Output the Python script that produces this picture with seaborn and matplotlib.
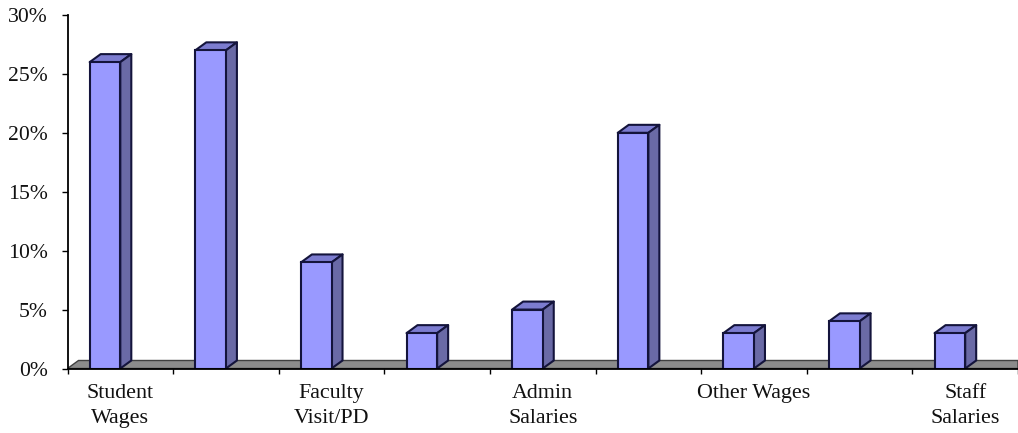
import numpy as np
import pandas as pd
import matplotlib
matplotlib.use("Agg")
import matplotlib.pyplot as plt
from matplotlib.patches import Polygon
from matplotlib.ticker import FuncFormatter
import seaborn as sns

categories = ["Student Wages", "Student Other", "Faculty Visit/PD", "Faculty Other",
              "Admin Salaries", "Admin Other", "Other Wages", "Other", "Staff Salaries"]
values = [26, 27, 9, 3, 5, 20, 3, 4, 3]
tick_labels = ["Student\nWages", "", "Faculty\nVisit/PD", "", "Admin\nSalaries", "",
               "Other Wages", "", "Staff\nSalaries"]

FRONT = "#9999FF"
SIDE = "#6A6AA6"
TOP = "#7C7CD0"
FLOOR = "#8C8C8C"
EDGE = "#14143C"

sns.set_style("white")
plt.rcParams["font.family"] = ["Liberation Serif", "DejaVu Serif"]

W, H = 1018, 433
fig = plt.figure(figsize=(W / 100, H / 100), dpi=100)
ax = fig.add_axes([67.5 / W, 1 - 368.5 / H, 1 - 67.5 / W, (368.5 - 15) / H])

df = pd.DataFrame({"category": categories, "value": values})
sns.barplot(data=df, x="category", y="value", order=categories, color=FRONT, saturation=1,
            width=0.29, edgecolor=EDGE, linewidth=1.5, ax=ax, zorder=3)
bars = list(ax.patches)

x0 = -0.355
ax.set_xlim(x0, x0 + 9)
ax.set_ylim(0, 30)

# depth of the pseudo-3D effect, in data units
dx = 11 / (951 / 9)
dy = 8 / (353.5 / 30)

# floor
ax.add_patch(Polygon([(x0, 0), (x0 + dx, dy), (x0 + 9, dy), (x0 + 9, 0)],
                     closed=True, facecolor=FLOOR, edgecolor="#404040", linewidth=1.0,
                     zorder=1, clip_on=True))

# top and side faces of each bar
for bar in bars:
    l, w, v = bar.get_x(), bar.get_width(), bar.get_height()
    r = l + w
    ax.add_patch(Polygon([(l, v), (l + dx, v + dy), (r + dx, v + dy), (r, v)], closed=True,
                         facecolor=TOP, edgecolor=EDGE, linewidth=1.5, joinstyle="round", zorder=2.5))
    ax.add_patch(Polygon([(r, 0), (r, v), (r + dx, v + dy), (r + dx, dy)], closed=True,
                         facecolor=SIDE, edgecolor=EDGE, linewidth=1.5, joinstyle="round", zorder=2.5))

# axes, ticks and labels
sns.despine(ax=ax)
for s in ("left", "bottom"):
    ax.spines[s].set_color("black")
    ax.spines[s].set_linewidth(1.3)
    ax.spines[s].set_zorder(5)

ax.set_xlabel("")
ax.set_ylabel("")
ax.set_yticks(np.arange(0, 31, 5))
ax.yaxis.set_major_formatter(FuncFormatter(lambda v, _: f"{v:.0f}%"))
ax.tick_params(axis="y", which="major", left=True, length=4.5, width=1.0, color="black",
               pad=9.5, labelsize=15.6, labelcolor="#111111")

ax.set_xticks([x0 + i for i in range(10)])
ax.set_xticklabels([])
ax.set_xticks([i + x0 + 0.5 for i in range(9)], minor=True)
ax.set_xticklabels(tick_labels, minor=True, fontsize=15.8, color="#111111", linespacing=1.42, va="top")
ax.tick_params(axis="x", which="major", bottom=True, length=3.6, width=1.0, color="black")
ax.tick_params(axis="x", which="minor", bottom=False, length=0, pad=11.5)

fig.savefig("out.png", dpi=100)
